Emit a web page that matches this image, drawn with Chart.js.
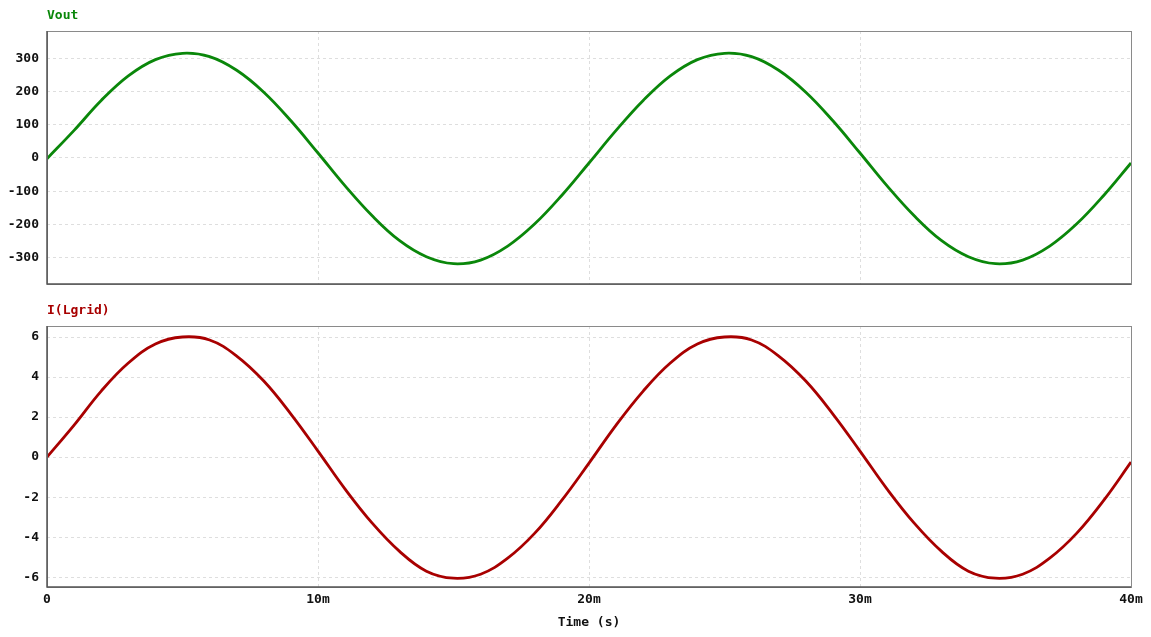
<!DOCTYPE html>
<html>
<head>
<meta charset="utf-8">
<script src="https://cdn.jsdelivr.net/npm/chart.js@4/dist/chart.umd.min.js"></script>
<style>
  body { margin: 0; background: #fff; }
  #top { position: absolute; left: 0; top: 0; width: 1151px; height: 300px; }
  #bottom { position: absolute; left: 0; top: 300px; width: 1151px; height: 337px; }
</style>
</head>
<body>
<div id="top"><canvas id="voutChart"></canvas></div>
<div id="bottom"><canvas id="currentChart"></canvas></div>
<script>
// time axis, ms
const timeMs = [0, 1, 2, 3, 4, 5, 6, 7, 8, 9, 10, 11, 12, 13, 14, 15, 16, 17, 18, 19, 20,
  21, 22, 23, 24, 25, 26, 27, 28, 29, 30, 31, 32, 33, 34, 35, 36, 37, 38, 39, 40];

// Vout (V)
const vout = [-2, 83, 173, 247, 296, 315, 305, 264, 198, 112, 15, -84, -174, -248, -297, -318, -307, -265, -198, -112,
  -15, 83, 173, 247, 296, 315, 305, 264, 198, 112, 15, -84, -174, -248, -297, -318, -307, -265, -198, -112, -15];

// I(Lgrid) (A)
const iLgrid = [0, 1.6, 3.3, 4.7, 5.65, 6.0, 5.85, 5.05, 3.8, 2.15, 0.3, -1.6, -3.3, -4.7, -5.7, -6.05, -5.85, -5.05, -3.8, -2.15,
  -0.3, 1.6, 3.3, 4.7, 5.65, 6.0, 5.85, 5.05, 3.8, 2.15, 0.3, -1.6, -3.3, -4.7, -5.7, -6.05, -5.85, -5.05, -3.8, -2.15, -0.25];

const voutTicks = [-300, -200, -100, 0, 100, 200, 300];
const currentTicks = [-6, -4, -2, 0, 2, 4, 6];
const timeTicks = [0, 10, 20, 30, 40];

const monoFont = { family: "'DejaVu Sans Mono', 'Liberation Mono', monospace", size: 13, weight: 'bold' };
const gridColor = '#dedede';

// frame round the plot area plus the trace name above it
const framePlugin = {
  id: 'frame',
  afterDraw(chart, args, opts) {
    const a = chart.chartArea;
    const ctx = chart.ctx;
    ctx.save();
    ctx.strokeStyle = '#8a8a8a';
    ctx.lineWidth = 1;
    ctx.strokeRect(a.left + 0.5, a.top + 0.5, a.right - a.left, a.bottom - a.top);
    ctx.strokeStyle = '#555';
    ctx.lineWidth = 1.5;
    ctx.beginPath();
    ctx.moveTo(a.left, a.top);
    ctx.lineTo(a.left, a.bottom);
    ctx.lineTo(a.right, a.bottom);
    ctx.stroke();
    ctx.fillStyle = opts.color;
    ctx.font = "bold 13px 'DejaVu Sans Mono', monospace";
    ctx.textBaseline = 'middle';
    ctx.textAlign = 'left';
    ctx.fillText(opts.text, a.left, a.top - 15);
    ctx.restore();
  }
};

function makeChart(canvasId, values, color, name, yTicks, yMin, yMax, showTime) {
  const ctx = document.getElementById(canvasId);
  return new Chart(ctx, {
    type: 'line',
    data: {
      datasets: [{
        label: name,
        data: timeMs.map((t, i) => ({ x: t, y: values[i] })),
        borderColor: color,
        borderWidth: 2.8,
        pointRadius: 0,
        tension: 0.4,
        fill: false
      }]
    },
    options: {
      responsive: true,
      maintainAspectRatio: false,
      animation: false,
      layout: {
        padding: { top: showTime ? 26 : 31, right: 20, left: 0, bottom: 0 }
      },
      plugins: {
        legend: { display: false },
        tooltip: { enabled: false },
        frame: { text: name, color: color }
      },
      scales: {
        x: {
          type: 'linear',
          min: 0,
          max: 40,
          afterBuildTicks: axis => { axis.ticks = timeTicks.map(v => ({ value: v })); },
          afterFit: axis => { axis.height = showTime ? 50 : 16; },
          grid: { color: gridColor, drawTicks: false },
          border: { display: false, dash: [3, 3] },
          ticks: {
            display: showTime,
            color: '#111',
            font: monoFont,
            padding: 5,
            maxRotation: 0,
            callback: v => (v === 0 ? '0' : v + 'm')
          },
          title: {
            display: showTime,
            text: 'Time (s)',
            color: '#111',
            font: monoFont,
            padding: { top: 4, bottom: 7 }
          }
        },
        y: {
          min: yMin,
          max: yMax,
          afterBuildTicks: axis => { axis.ticks = yTicks.map(v => ({ value: v })); },
          afterFit: axis => { axis.width = 47; },
          grid: { color: gridColor, drawTicks: false },
          border: { display: false, dash: [3, 3] },
          ticks: {
            color: '#111',
            font: monoFont,
            padding: 8
          }
        }
      }
    },
    plugins: [framePlugin]
  });
}

makeChart('voutChart', vout, '#0a870a', 'Vout', voutTicks, -379, 382, false);
makeChart('currentChart', iLgrid, '#a80000', 'I(Lgrid)', currentTicks, -6.49, 6.55, true);
</script>
</body>
</html>
